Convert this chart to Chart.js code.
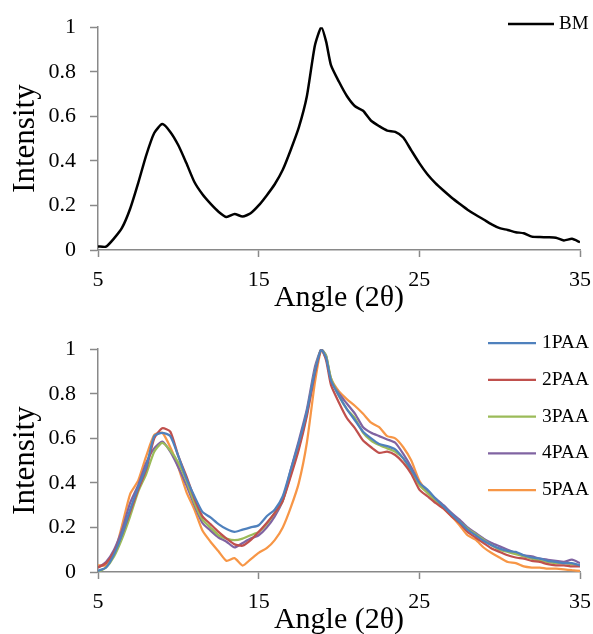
<!DOCTYPE html>
<html><head><meta charset="utf-8">
<script src="https://cdn.jsdelivr.net/npm/chart.js@4"></script>
<style>
html,body{margin:0;padding:0;background:#fff;overflow:hidden;width:593px;height:634px}
.box{position:absolute;left:0;width:593px;height:317px}
</style></head><body>
<div class="box" style="top:0"><canvas id="c1" width="593" height="317"></canvas></div>
<div class="box" style="top:322px"><canvas id="c2" width="593" height="317"></canvas></div>
<script>
const angles = [5,5.5,6,6.5,7,7.5,8,8.5,9,9.5,10,10.5,11,11.5,12,12.5,13,13.5,14,14.5,15,15.5,16,16.5,17,17.5,18,18.5,18.9,19.2,19.5,20,20.5,21,21.5,22,22.5,23,23.5,24,24.5,25,25.5,26,26.5,27,27.5,28,28.5,29,29.5,30,30.5,31,31.5,32,32.5,33,33.5,34,34.5,35];
const BM = [.016,.015,.052,.10,.185,.30,.425,.525,.565,.53,.47,.39,.305,.25,.208,.172,.148,.162,.15,.165,.20,.245,.295,.36,.45,.55,.69,.918,1,.935,.83,.755,.69,.645,.625,.58,.556,.536,.53,.505,.447,.39,.34,.30,.267,.236,.208,.181,.158,.137,.115,.098,.09,.08,.075,.06,.058,.057,.055,.043,.05,.035];
const PAA1 = [.005,.02,.08,.17,.28,.38,.47,.61,.625,.61,.52,.42,.34,.27,.245,.215,.193,.18,.19,.20,.21,.25,.28,.34,.46,.58,.72,.90,1,.96,.86,.79,.73,.68,.63,.60,.575,.565,.55,.51,.46,.40,.37,.33,.295,.26,.225,.19,.165,.14,.12,.105,.095,.09,.075,.065,.06,.05,.045,.04,.04,.03];
const PAA2 = [.02,.04,.09,.17,.27,.37,.46,.60,.645,.63,.52,.43,.33,.25,.215,.18,.15,.124,.118,.143,.18,.22,.265,.32,.43,.55,.70,.89,1,.95,.84,.76,.69,.645,.59,.56,.535,.54,.525,.49,.44,.37,.34,.31,.285,.25,.22,.18,.155,.13,.105,.09,.075,.065,.06,.05,.045,.035,.03,.03,.025,.025];
const PAA3 = [0,.02,.07,.15,.25,.36,.44,.54,.58,.545,.49,.41,.31,.235,.20,.165,.15,.143,.15,.165,.18,.215,.265,.32,.44,.56,.71,.90,1,.97,.87,.79,.73,.69,.625,.59,.57,.555,.54,.51,.45,.39,.355,.32,.29,.255,.225,.195,.17,.145,.12,.10,.09,.08,.07,.06,.05,.045,.04,.04,.035,.03];
const PAA4 = [.02,.045,.10,.19,.31,.39,.49,.555,.585,.54,.47,.39,.30,.22,.186,.155,.136,.11,.13,.15,.165,.20,.25,.32,.46,.59,.73,.92,1,.97,.86,.80,.755,.71,.65,.625,.61,.595,.58,.53,.47,.40,.36,.33,.30,.265,.235,.20,.175,.15,.13,.115,.10,.085,.075,.07,.06,.055,.05,.045,.055,.04];
const PAA5 = [.03,.03,.08,.21,.35,.41,.52,.615,.625,.56,.47,.36,.28,.186,.136,.093,.05,.062,.029,.057,.086,.107,.143,.20,.29,.40,.58,.85,1,.96,.87,.81,.775,.745,.71,.67,.65,.61,.60,.56,.50,.41,.36,.32,.285,.25,.21,.165,.145,.11,.085,.065,.045,.04,.025,.02,.02,.015,.015,.012,.008,.005];
const xTicks = [5,15,25,35];
const yTicks = [0,0.2,0.4,0.6,0.8,1];
const topLabels = ['BM'];
const bottomLabels = ['1PAA','2PAA','3PAA','4PAA','5PAA'];

const SERIF = "'Liberation Serif','Times New Roman',serif";
const AXIS = '#898989';

const pts = arr => arr.map((v, i) => ({x: angles[i], y: v}));

const lineLegend = {
  id: 'lineLegend',
  afterDraw(chart, args, opts) {
    const ctx = chart.ctx;
    ctx.save();
    ctx.font = opts.font;
    ctx.textBaseline = 'middle';
    ctx.textAlign = 'left';
    chart.data.datasets.forEach((ds, i) => {
      const y = opts.y + i * opts.spacing;
      ctx.strokeStyle = ds.borderColor;
      ctx.lineWidth = ds.borderWidth;
      ctx.beginPath(); ctx.moveTo(opts.x, y); ctx.lineTo(opts.x + opts.lineLen, y); ctx.stroke();
      ctx.fillStyle = '#000';
      ctx.fillText(ds.label, opts.x + opts.lineLen + opts.gap, y);
    });
    ctx.restore();
  }
};

function makeChart(id, datasets, legend) {
  return new Chart(document.getElementById(id), {
    type: 'line',
    data: { datasets },
    plugins: [lineLegend],
    options: {
      responsive: false, animation: false, devicePixelRatio: 1, events: [],
      layout: { padding: { top: 17, right: 13, bottom: 1, left: 0 } },
      elements: { point: { radius: 0 }, line: { tension: 0.2 } },
      plugins: { legend: { display: false }, tooltip: { enabled: false }, lineLegend: legend },
      scales: {
        x: {
          type: 'linear', min: 5, max: 35,
          afterBuildTicks: s => { s.ticks = xTicks.map(v => ({ value: v })); },
          ticks: { font: { family: SERIF, size: 22 }, color: '#000', padding: 10, maxRotation: 0, autoSkip: false, callback: v => String(v) },
          grid: { drawOnChartArea: false, drawTicks: true, tickLength: 7, tickColor: AXIS, tickWidth: 1.5 },
          border: { color: AXIS, width: 1.5 },
          title: { display: true, text: 'Angle (2θ)', font: { family: SERIF, size: 30 }, color: '#000', padding: { top: 0, bottom: 0 } },
          afterFit: s => { s.height = 66; s.paddingLeft = 0; s.paddingRight = 0; }
        },
        y: {
          min: 0, max: 1,
          afterBuildTicks: s => { s.ticks = yTicks.map(v => ({ value: v })); },
          ticks: { font: { family: SERIF, size: 22 }, color: '#000', padding: 14, callback: v => String(v) },
          grid: { drawOnChartArea: false, drawTicks: true, tickLength: 8, tickColor: AXIS, tickWidth: 1.5 },
          border: { color: AXIS, width: 1.5 },
          title: { display: true, text: 'Intensity', font: { family: SERIF, size: 31 }, color: '#000', padding: { top: 7, bottom: 0 } },
          afterFit: s => { s.width = 98; }
        }
      }
    }
  });
}

makeChart('c1', [
  { label: topLabels[0], data: pts(BM), borderColor: '#000000', borderWidth: 2.5 }
], { x: 508, y: 24, spacing: 0, lineLen: 46, gap: 5, font: "19px " + SERIF });

const colors = ['#4F81BD', '#C0504D', '#9BBB59', '#8064A2', '#F79646'];
const series = [PAA1, PAA2, PAA3, PAA4, PAA5];
makeChart('c2', series.map((s, i) => ({
  label: bottomLabels[i], data: pts(s), borderColor: colors[i], borderWidth: 2.25
})), { x: 488, y: 21, spacing: 36.75, lineLen: 48, gap: 6, font: "19.5px " + SERIF });
</script>
</body></html>
